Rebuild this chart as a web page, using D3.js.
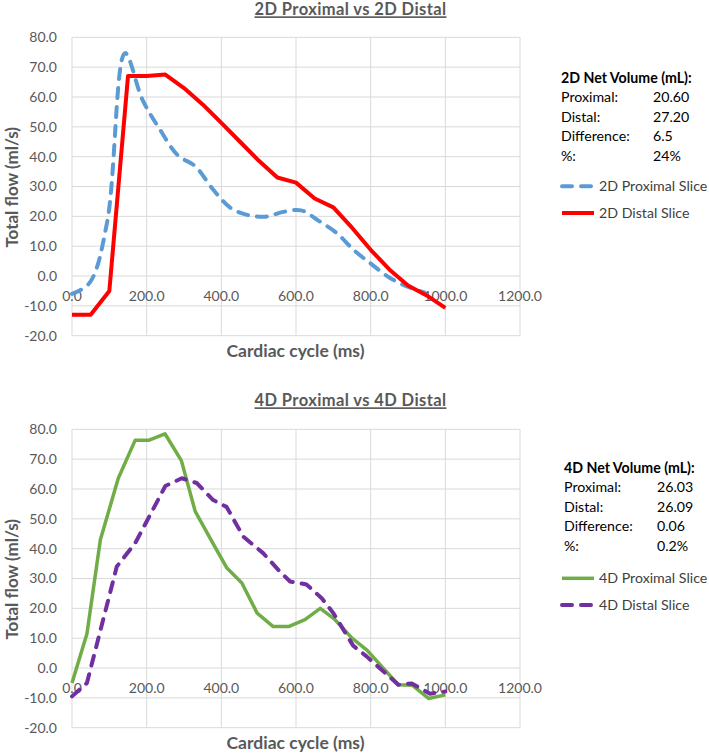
<!DOCTYPE html>
<html>
<head>
<meta charset="utf-8">
<script src="https://cdn.jsdelivr.net/npm/d3@7"></script>
<style>
  body { margin: 0; background: #fff; }
  text { font-family: Lato, "Open Sans", sans-serif; }
</style>
</head>
<body>
<svg id="chart"></svg>
<script>
// --- data ---
let xTicks = [0, 200, 400, 600, 800, 1000, 1200]
let yTicks = [-20, -10, 0, 10, 20, 30, 40, 50, 60, 70, 80]

// 2D proximal (blue dashed)
let t2dProx = [0, 47, 94, 142, 189, 236, 283, 330, 378, 425, 472, 519, 566, 614, 661, 708, 755, 802, 850, 897, 944]
let f2dProx = [-6, -2.3, 18, 74.7, 59, 49, 40.5, 36.8, 29, 22.8, 20.4, 19.9, 21.5, 22, 18.5, 14.5, 8.7, 4, -0.5, -3.5, -5.5]

// 2D distal (red solid)
let t2dDist = [0, 50, 100, 150, 200, 250, 300, 350, 400, 450, 500, 550, 600, 650, 700, 750, 800, 850, 900, 950, 1000]
let f2dDist = [-13, -13, -5, 67, 67, 67.5, 63, 57.5, 51.3, 45, 38.7, 33, 31.3, 26, 23, 16.2, 8.8, 2.2, -3.2, -6.5, -10.7]

// 4D proximal (green solid)
let t4dProx = [0, 40, 76, 124, 169, 205, 249, 293, 330, 378, 415, 455, 496, 539, 580, 624, 665, 702, 750, 790, 874, 912, 955, 1000]
let f4dProx = [-5, 11.5, 43, 63.6, 76.3, 76.3, 78.5, 69.5, 52.5, 41.7, 33.5, 28.5, 18.4, 13.9, 13.9, 16.2, 20, 16.5, 10, 6, -5.6, -5.8, -10.2, -9]

// 4D distal (purple dashed)
let t4dDist = [0, 40, 120, 170, 250, 294, 334, 378, 414, 459, 512, 557, 584, 628, 669, 700, 753, 789, 874, 910, 959, 1000]
let f4dDist = [-9.5, -5, 34, 42, 61, 63.6, 62, 56.3, 54, 44, 38.5, 32.3, 29, 28, 23.4, 18.4, 7.5, 3.9, -5.6, -5.2, -8.6, -7.9]

let stat2dLabels = ['Proximal:', 'Distal:', 'Difference:', '%:']
let stat2dValues = ['20.60', '27.20', '6.5', '24%']
let stat4dLabels = ['Proximal:', 'Distal:', 'Difference:', '%:']
let stat4dValues = ['26.03', '26.09', '0.06', '0.2%']

let W = 709, H = 754

let svg = d3.select('svg#chart')
            .attr('width', W)
            .attr('height', H)

svg.append('rect')
   .attr('width', W)
   .attr('height', H)
   .attr('fill', '#fff')

function drawPanel(opts) {
    let g = svg.append('g').attr('transform', 'translate(0,' + opts.top + ')')

    let x = d3.scaleLinear().domain([0, 1200]).range([72, 520])
    let y = d3.scaleLinear().domain([-20, 80]).range([298.4, 0])

    // gridlines
    g.append('g').selectAll('line.h')
     .data(yTicks).join('line')
     .attr('x1', x(0)).attr('x2', x(1200))
     .attr('y1', d => y(d)).attr('y2', d => y(d))
     .attr('stroke', '#d9d9d9').attr('stroke-width', 1)
    g.append('g').selectAll('line.v')
     .data(xTicks).join('line')
     .attr('x1', d => x(d)).attr('x2', d => x(d))
     .attr('y1', y(80)).attr('y2', y(-20))
     .attr('stroke', '#d9d9d9').attr('stroke-width', 1)

    // tick labels
    g.append('g').selectAll('text')
     .data(yTicks).join('text')
     .attr('x', 57).attr('y', d => y(d))
     .attr('dy', '0.35em')
     .attr('text-anchor', 'end')
     .attr('font-size', 14)
     .attr('fill', '#595959')
     .text(d => d.toFixed(1))
    g.append('g').selectAll('text')
     .data(xTicks).join('text')
     .attr('x', d => x(d)).attr('y', y(0) + 20)
     .attr('dy', '0.35em')
     .attr('text-anchor', 'middle')
     .attr('font-size', 14)
     .attr('fill', '#595959')
     .text(d => d.toFixed(1))

    // titles
    g.append('text')
     .attr('x', 350.5).attr('y', opts.titleY)
     .attr('text-anchor', 'middle')
     .attr('font-size', 16.5).attr('font-weight', 'bold')
     .attr('letter-spacing', 0.4)
     .attr('fill', '#595959')
     .attr('text-decoration', 'underline')
     .text(opts.title)
    g.append('text')
     .attr('x', 295.5).attr('y', 320)
     .attr('text-anchor', 'middle')
     .attr('font-size', 17.5).attr('font-weight', 'bold')
     .attr('fill', '#595959')
     .text('Cardiac cycle (ms)')
    g.append('text')
     .attr('transform', 'translate(18,150) rotate(-90)')
     .attr('text-anchor', 'middle')
     .attr('font-size', 17).attr('font-weight', 'bold')
     .attr('fill', '#595959')
     .text('Total flow (ml/s)')

    // series
    opts.series.forEach(s => {
        let pts = s.t.map((t, i) => [t, s.f[i]])
        let line = d3.line()
                     .x(d => x(d[0]))
                     .y(d => y(d[1]))
                     .curve(s.smooth ? d3.curveCatmullRom : d3.curveLinear)
        g.append('path')
         .datum(pts)
         .attr('d', line)
         .attr('fill', 'none')
         .attr('stroke', s.color)
         .attr('stroke-width', s.width)
         .attr('stroke-linejoin', 'round')
         .attr('stroke-linecap', s.dash ? 'round' : 'butt')
         .attr('stroke-dasharray', s.dash || null)
    })

    // stats box
    let sx = opts.statX
    g.append('text')
     .attr('x', sx).attr('y', opts.statY)
     .attr('font-size', 14.2).attr('font-weight', 'bold')
     .attr('fill', '#000')
     .text(opts.statTitle)
    opts.statLabels.forEach((lab, i) => {
        g.append('text')
         .attr('x', sx).attr('y', opts.statY + 19.5 * (i + 1))
         .attr('font-size', 14.2).attr('fill', '#000')
         .text(lab)
        g.append('text')
         .attr('x', opts.valX).attr('y', opts.statY + 19.5 * (i + 1))
         .attr('font-size', 14.2).attr('fill', '#000')
         .text(opts.statValues[i])
    })

    // legend
    opts.series.forEach((s, i) => {
        let ly = opts.legendY + i * 26.7
        g.append('line')
         .attr('x1', 562).attr('x2', 594)
         .attr('y1', ly).attr('y2', ly)
         .attr('stroke', s.color)
         .attr('stroke-width', s.width)
         .attr('stroke-linecap', s.dash ? 'round' : 'butt')
         .attr('stroke-dasharray', s.dash || null)
        g.append('text')
         .attr('x', 599).attr('y', ly)
         .attr('dy', '0.35em')
         .attr('font-size', 14.2).attr('fill', '#404040')
         .text(s.name)
    })
}

drawPanel({
    top: 37.3,
    title: '2D Proximal vs 2D Distal',
    titleY: -22,
    statTitle: '2D Net Volume (mL):',
    statLabels: stat2dLabels,
    statValues: stat2dValues,
    statX: 561, valX: 653, statY: 45.5,
    legendY: 149,
    series: [
        {name: '2D Proximal Slice', t: t2dProx, f: f2dProx, color: '#5b9bd5', width: 4, dash: '10,9', smooth: true},
        {name: '2D Distal Slice', t: t2dDist, f: f2dDist, color: '#ff0000', width: 4}
    ]
})

drawPanel({
    top: 429.3,
    title: '4D Proximal vs 4D Distal',
    titleY: -23,
    statTitle: '4D Net Volume (mL):',
    statLabels: stat4dLabels,
    statValues: stat4dValues,
    statX: 564, valX: 657, statY: 43.5,
    legendY: 149,
    series: [
        {name: '4D Proximal Slice', t: t4dProx, f: f4dProx, color: '#70ad47', width: 3.5},
        {name: '4D Distal Slice', t: t4dDist, f: f4dDist, color: '#7030a0', width: 4, dash: '10,9'}
    ]
})
</script>
</body>
</html>
